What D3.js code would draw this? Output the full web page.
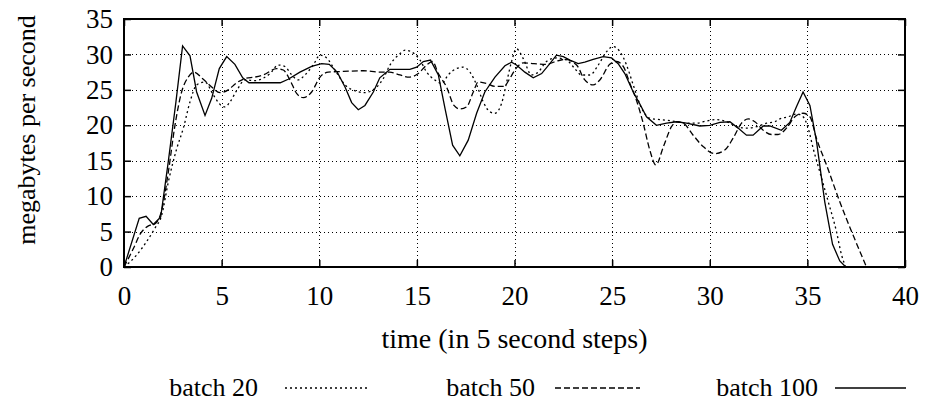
<!DOCTYPE html>
<html>
<head>
<meta charset="utf-8">
<script src="https://cdn.jsdelivr.net/npm/d3@7"></script>
<style>
  body { margin: 0; background: #fff; }
  text { font-family: "Liberation Serif", "Times New Roman", serif; fill: #000; }
</style>
</head>
<body>
<div id="chart"></div>
<script>
// batch 20 (dotted)
const b20X = [0, 0.65, 1.16, 1.59, 1.93, 2.27, 2.7, 3.04, 3.38, 3.72, 4.15, 4.57, 5.0, 5.17, 5.43, 5.77, 6.2, 6.7, 7.1, 7.48, 7.9, 8.24, 8.59, 8.92, 9.27, 9.69, 10.04, 10.38, 10.8, 11.32, 11.91, 12.3, 12.94, 13.28, 13.62, 14.13, 14.4, 14.69, 15.16, 15.5, 15.92, 16.27, 16.6, 17.03, 17.37, 17.72, 18.06, 18.4, 18.74, 18.99, 19.34, 19.6, 19.85, 20.1, 20.45, 20.87, 21.21, 21.64, 22.15, 22.67, 23.09, 23.43, 23.86, 24.29, 24.72, 25.05, 25.4, 25.74, 26.08, 26.51, 26.93, 27.44, 28.12, 28.81, 29.32, 29.83, 30.35, 30.86, 31.37, 31.88, 32.4, 32.91, 33.33, 33.59, 34.01, 34.44, 34.78, 35.04, 35.3, 35.64, 36.07, 36.49, 36.75, 36.97];
const b20Y = [0, 1.7, 3.6, 5.5, 7.3, 12.0, 16.7, 19.6, 23.3, 25.7, 26.1, 24.3, 22.75, 22.6, 23.3, 24.9, 26.4, 26.3, 26.6, 27.3, 28.5, 28.3, 27.1, 26.4, 27.1, 28.5, 29.9, 29.5, 27.8, 25.7, 24.8, 24.6, 25.4, 26.6, 28.5, 30.1, 30.6, 30.4, 29.2, 27.5, 26.4, 25.9, 27.1, 28.0, 28.2, 27.5, 25.7, 23.3, 21.9, 21.7, 23.1, 26.1, 29.0, 30.8, 29.4, 27.1, 27.5, 29.0, 29.5, 29.2, 28.0, 27.1, 27.1, 28.5, 30.4, 31.1, 30.4, 28.5, 25.7, 22.4, 21.0, 20.8, 20.6, 20.3, 20.3, 20.6, 20.8, 20.5, 19.8, 19.6, 19.8, 20.3, 20.5, 20.9, 21.2, 21.6, 21.2, 19.6, 16.7, 13.4, 9.2, 5.0, 1.7, 0];

// batch 50 (dashed)
const b50X = [0, 0.48, 0.85, 1.25, 1.59, 1.93, 2.27, 2.61, 2.95, 3.29, 3.58, 4.06, 4.49, 4.92, 5.34, 5.77, 6.2, 6.7, 7.13, 7.82, 8.16, 8.5, 8.84, 9.18, 9.61, 10.04, 10.46, 11.23, 12.25, 13.1, 13.6, 14.13, 14.6, 15.07, 15.5, 15.8, 16.1, 16.52, 16.9, 17.2, 17.55, 17.89, 18.14, 18.57, 19.0, 19.46, 19.76, 20.02, 20.45, 21.0, 21.64, 22.1, 22.58, 23.18, 23.6, 24.03, 24.37, 24.88, 25.23, 25.57, 25.91, 26.25, 26.6, 26.93, 27.24, 27.63, 28.04, 28.3, 28.64, 29.15, 29.66, 30.26, 30.77, 31.2, 31.63, 31.97, 32.31, 32.74, 33.16, 33.5, 33.93, 34.36, 34.78, 35.13, 35.47, 35.98, 36.66, 37.34, 38.03];
const b50Y = [0, 2.6, 4.75, 5.8, 6.1, 8.0, 13.4, 20.0, 24.7, 26.8, 27.5, 26.5, 25.4, 24.6, 25.0, 26.0, 26.6, 26.8, 27.1, 28.0, 27.8, 26.4, 24.5, 23.9, 24.7, 26.8, 27.5, 27.6, 27.7, 27.5, 27.5, 27.1, 26.8, 27.3, 28.5, 29.0, 27.3, 25.4, 22.8, 22.3, 22.6, 24.7, 26.1, 25.9, 25.5, 25.5, 26.6, 27.8, 28.8, 28.7, 28.6, 29.0, 29.3, 28.5, 26.4, 25.7, 26.4, 28.6, 29.0, 28.3, 25.9, 23.5, 20.2, 16.5, 14.4, 17.0, 19.8, 20.5, 20.3, 18.6, 17.0, 16.0, 16.5, 18.2, 20.3, 20.9, 20.5, 19.3, 18.7, 18.7, 19.6, 21.2, 21.7, 21.2, 18.1, 14.4, 9.2, 4.5, 0];

// batch 100 (solid)
const b100X = [0, 0.78, 1.13, 1.5, 1.88, 2.27, 2.66, 3.0, 3.38, 3.72, 4.15, 4.49, 4.88, 5.26, 5.68, 6.08, 6.4, 6.8, 7.2, 7.6, 8.0, 8.41, 9.01, 9.61, 10.12, 10.51, 10.92, 11.32, 11.66, 12.0, 12.34, 12.77, 13.1, 13.62, 14.1, 14.64, 14.99, 15.33, 15.7, 16.1, 16.44, 16.83, 17.2, 17.63, 18.06, 18.48, 19.0, 19.51, 19.85, 20.1, 20.53, 20.96, 21.39, 21.81, 22.15, 22.5, 22.84, 23.26, 23.6, 24.03, 24.54, 24.97, 25.31, 25.65, 26.08, 26.4, 26.76, 27.27, 27.79, 28.3, 28.81, 29.49, 30.0, 30.52, 31.03, 31.45, 31.88, 32.22, 32.74, 33.08, 33.67, 34.1, 34.44, 34.78, 35.13, 35.47, 35.89, 36.29, 36.66, 36.97];
const b100Y = [0, 6.87, 7.15, 6.0, 7.05, 14.9, 23.3, 31.2, 29.8, 24.7, 21.4, 23.8, 28.0, 29.7, 28.6, 26.7, 26.0, 26.0, 26.0, 26.0, 26.0, 26.5, 27.5, 28.3, 28.7, 28.6, 27.5, 25.4, 23.2, 22.2, 22.8, 24.7, 26.7, 27.9, 27.9, 27.9, 28.2, 29.0, 29.2, 27.1, 22.4, 17.2, 15.7, 17.9, 21.7, 24.7, 26.8, 28.4, 28.9, 28.5, 27.5, 26.7, 27.3, 28.7, 29.9, 29.7, 29.2, 28.7, 28.9, 29.3, 29.7, 29.5, 28.7, 27.3, 24.7, 23.1, 21.2, 20.0, 20.3, 20.5, 20.3, 19.9, 20.0, 20.4, 20.5, 19.6, 18.6, 18.6, 19.9, 19.9, 19.3, 20.4, 22.6, 24.7, 22.8, 17.7, 9.2, 3.2, 0.85, 0];

const xTicks = [0, 5, 10, 15, 20, 25, 30, 35, 40];
const yTicks = [0, 5, 10, 15, 20, 25, 30, 35];
const seriesNames = ["batch 20", "batch 50", "batch 100"];

const W = 925, H = 407;
const plot = { left: 124, right: 905, top: 19, bottom: 267 };

const svg = d3.select("#chart").append("svg")
  .attr("width", W)
  .attr("height", H);

//scales
const x = d3.scaleLinear().domain([0, 40]).range([plot.left, plot.right]);
const y = d3.scaleLinear().domain([0, 35]).range([plot.bottom, plot.top]);

//dotted grid
const grid = svg.append("g").attr("class", "grid")
  .attr("stroke", "#000").attr("stroke-width", 1).attr("stroke-dasharray", "1,3");
grid.selectAll(".gx")
  .data(xTicks.filter(d => d > 0 && d < 40))
  .enter().append("line")
  .attr("x1", d => Math.round(x(d)) + 0.5).attr("x2", d => Math.round(x(d)) + 0.5)
  .attr("y1", plot.top).attr("y2", plot.bottom);
grid.selectAll(".gy")
  .data(yTicks.filter(d => d > 0 && d < 35))
  .enter().append("line")
  .attr("x1", plot.left).attr("x2", plot.right)
  .attr("y1", d => Math.round(y(d)) + 0.5).attr("y2", d => Math.round(y(d)) + 0.5);

//axes, ticks pointing inward on all four sides
const fontSize = 26;
const tickFont = 27;
const xAxis = d3.axisBottom(x).tickValues(xTicks).tickSize(-7).tickPadding(19).tickSizeOuter(0);
const yAxis = d3.axisLeft(y).tickValues(yTicks).tickSize(-7).tickPadding(11).tickSizeOuter(0);

svg.append("g")
  .attr("transform", `translate(0,${plot.bottom})`)
  .call(xAxis)
  .call(g => g.select(".domain").remove());
svg.append("g")
  .attr("transform", `translate(${plot.left},0)`)
  .call(yAxis)
  .call(g => g.select(".domain").remove());
svg.append("g")
  .attr("transform", `translate(0,${plot.top})`)
  .call(d3.axisTop(x).tickValues(xTicks).tickSize(-7).tickFormat(""))
  .call(g => g.select(".domain").remove());
svg.append("g")
  .attr("transform", `translate(${plot.right},0)`)
  .call(d3.axisRight(y).tickValues(yTicks).tickSize(-7).tickFormat(""))
  .call(g => g.select(".domain").remove());

svg.selectAll(".tick line").attr("stroke", "#000").attr("stroke-width", 1.5);
svg.selectAll(".tick text")
  .style("font-family", "'Liberation Serif', serif")
  .style("font-size", tickFont + "px");

//border
svg.append("rect")
  .attr("x", plot.left).attr("y", plot.top)
  .attr("width", plot.right - plot.left).attr("height", plot.bottom - plot.top)
  .attr("fill", "none").attr("stroke", "#000").attr("stroke-width", 2);

//lines
const smooth = d3.line().x(d => x(d[0])).y(d => y(d[1])).curve(d3.curveMonotoneX);
const straight = d3.line().x(d => x(d[0])).y(d => y(d[1]));

const series = [
  { pts: d3.zip(b20X, b20Y), gen: smooth, dash: "2,3" },
  { pts: d3.zip(b50X, b50Y), gen: smooth, dash: "6,3" },
  { pts: d3.zip(b100X, b100Y), gen: straight, dash: null }
];

svg.append("g").selectAll("path")
  .data(series)
  .enter().append("path")
  .attr("d", d => d.gen(d.pts))
  .attr("fill", "none")
  .attr("stroke", "#000")
  .attr("stroke-width", 1.3)
  .attr("stroke-dasharray", d => d.dash);

//axis titles
svg.append("text")
  .attr("x", (plot.left + plot.right) / 2)
  .attr("y", 348)
  .attr("text-anchor", "middle")
  .style("font-size", "28px")
  .text("time (in 5 second steps)");

svg.append("text")
  .attr("transform", "translate(26,130) rotate(-90)")
  .attr("text-anchor", "middle")
  .attr("dominant-baseline", "central")
  .style("font-size", fontSize + "px")
  .text("megabytes per second");

//legend
const legendTextEnd = [258, 535, 818];
const legendLine = [[285, 368], [555, 640], [835, 906]];
const legend = svg.append("g").selectAll("g")
  .data(series)
  .enter().append("g");
legend.append("text")
  .attr("x", (d, i) => legendTextEnd[i])
  .attr("y", 396)
  .attr("text-anchor", "end")
  .style("font-size", fontSize + "px")
  .text((d, i) => seriesNames[i]);
legend.append("line")
  .attr("x1", (d, i) => legendLine[i][0])
  .attr("x2", (d, i) => legendLine[i][1])
  .attr("y1", 388).attr("y2", 388)
  .attr("stroke", "#000")
  .attr("stroke-width", 1.3)
  .attr("stroke-dasharray", d => d.dash);
</script>
</body>
</html>
